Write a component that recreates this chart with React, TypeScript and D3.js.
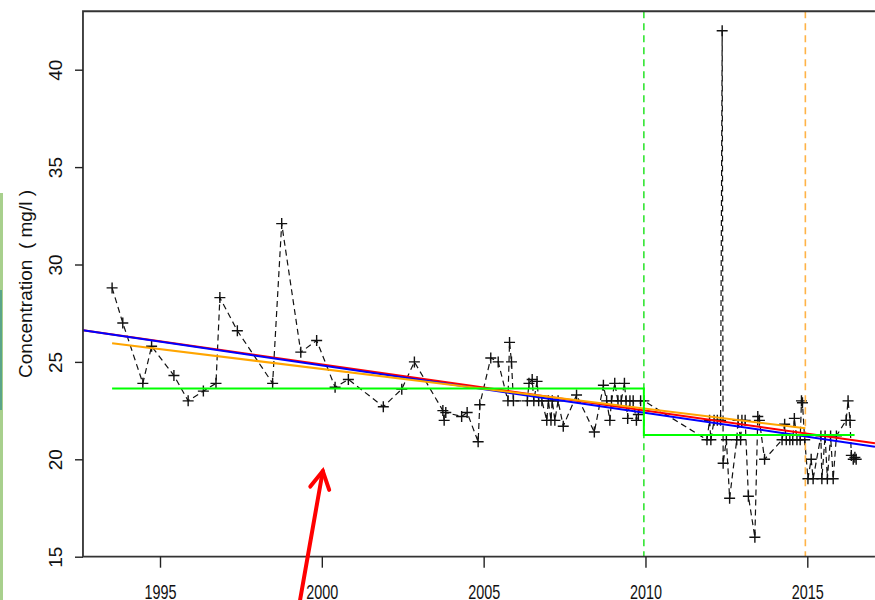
import React, { useEffect, useRef } from "react";
import * as d3 from "d3";

const width = 875;
const height = 600;

// sample dates (decimal years) and concentrations (mg/l)
const years = [
  1993.52, 1993.85, 1994.47, 1994.74, 1995.43, 1995.87, 1996.34, 1996.73, 1996.85, 1997.39,
  1998.48, 1998.76, 1999.35, 1999.84, 2000.41, 2000.82, 2001.9, 2002.47, 2002.86, 2003.74,
  2003.78, 2003.83, 2004.32, 2004.49, 2004.83, 2004.88, 2005.22, 2005.45, 2005.75, 2005.8,
  2005.86, 2005.92, 2006.35, 2006.4, 2006.5, 2006.55, 2006.65, 2006.7, 2006.8, 2006.95,
  2007.0, 2007.08, 2007.12, 2007.2, 2007.3, 2007.46, 2007.87, 2008.42, 2008.7, 2008.8,
  2008.9, 2008.95, 2009.05, 2009.15, 2009.25, 2009.35, 2009.4, 2009.45, 2009.52, 2009.62,
  2009.72, 2009.78, 2009.85, 2009.95, 2011.9, 2011.98, 2012.02, 2012.12, 2012.22, 2012.32,
  2012.37, 2012.4, 2012.5, 2012.6, 2012.82, 2012.86, 2012.94, 2012.98, 2013.08, 2013.18,
  2013.38, 2013.47, 2013.52, 2013.68, 2014.22, 2014.3, 2014.35, 2014.46, 2014.55, 2014.6,
  2014.68, 2014.78, 2014.82, 2014.85, 2014.92, 2015.02, 2015.12, 2015.18, 2015.42, 2015.45,
  2015.55, 2015.62, 2015.72, 2015.8, 2015.9, 2016.2, 2016.26, 2016.32, 2016.36, 2016.42,
  2016.47, 2016.51,
];
const conc = [
  28.8, 27.0, 23.9, 25.8, 24.3, 23.0, 23.5, 23.9, 28.3, 26.6,
  23.9, 32.1, 25.5, 26.1, 23.7, 24.1, 22.7, 23.6, 25.0, 22.5,
  22.0, 22.4, 22.2, 22.4, 20.9, 22.8, 25.2, 25.0, 23.0, 26.0,
  25.0, 23.0, 23.0, 23.9, 24.1, 23.0, 24.0, 23.0, 23.0, 22.0,
  23.0, 22.0, 23.0, 22.0, 23.0, 21.7, 23.3, 21.4, 23.8, 23.0,
  22.0, 23.0, 23.9, 23.0, 23.0, 23.9, 23.0, 22.1, 23.0, 23.0,
  22.0, 22.3, 23.0, 23.0, 21.0, 22.0, 21.0, 22.0, 22.0, 22.0,
  42.0, 19.8, 21.0, 18.0, 21.0, 22.0, 21.0, 22.0, 22.0, 18.1,
  16.0, 22.2, 22.0, 20.0, 21.0, 21.8, 21.0, 21.0, 21.0, 22.1,
  21.0, 21.0, 23.0, 22.9, 21.0, 19.0, 20.0, 19.0, 21.2, 19.0,
  21.2, 19.0, 21.2, 19.0, 21.2, 22.0, 23.0, 22.0, 20.2, 20.0,
  20.1, 20.0,
];

const xTicks = [1995, 2000, 2005, 2010, 2015];
const yTicks = [15, 20, 25, 30, 35, 40];

// fitted trends: [year0, value0, year1, value1]
const redTrend = [1992.62, 26.62, 2017.09, 20.82];
const blueTrend = [1992.62, 26.62, 2017.09, 20.65];
const orangeTrend = [1993.52, 25.96, 2014.94, 21.59];

// period means (step)
const stepYears = [1993.52, 2009.95, 2009.95, 2016.46];
const stepValues = [23.64, 23.64, 21.25, 21.25];

// break dates
const breakGreen = 2009.95;
const breakOrange = 2014.94;

// plotted region in data units
const xDomain = [1992.62, 2017.09];
const yTop = 43.0;

// annotation arrow (tail, tip) in data units
const arrowYears = [1999.33, 2000.03];
const arrowValues = [12.8, 19.4];

const font = "'Liberation Sans', Arial, Helvetica, sans-serif";

const App = () => {
  const xAxisRef = useRef<SVGGElement>(null);
  const yAxisRef = useRef<SVGGElement>(null);

  const x = d3.scaleLinear().domain([1995, 2015]).range([160, 807.3]);
  const y = d3.scaleLinear().domain([15, 40]).range([556.7, 69.7]);

  const left = x(xDomain[0]);
  const right = x(xDomain[1]);
  const top = y(yTop);
  const bottom = y(15);

  useEffect(() => {
    const yAxis = d3
      .axisLeft(y)
      .tickValues(yTicks)
      .tickSize(8)
      .tickFormat(d3.format("d"));
    const yg = d3.select(yAxisRef.current).call(yAxis);
    yg.select(".domain").remove();
    yg.selectAll("line").attr("stroke", "#222").attr("stroke-width", 1.4);
    yg.selectAll("text")
      .attr("x", null)
      .attr("dy", null)
      .attr("text-anchor", "middle")
      .attr("fill", "#111")
      .style("font-size", "19px")
      .style("font-family", font)
      .attr("transform", "translate(-21,0) rotate(-90)");

    const xAxis = d3
      .axisBottom(x)
      .tickValues(xTicks)
      .tickSize(11)
      .tickFormat(d3.format("d"));
    const xg = d3.select(xAxisRef.current).call(xAxis);
    xg.select(".domain").remove();
    xg.selectAll("line").attr("stroke", "#222").attr("stroke-width", 1.4);
    xg.selectAll("text")
      .attr("y", null)
      .attr("dy", null)
      .attr("fill", "#111")
      .style("font-size", "20px")
      .style("font-family", font)
      .attr("transform", "translate(0,42) scale(0.72,1)");
  }, []);

  const pts = years.map((yr, i) => [yr, conc[i]] as [number, number]);
  const dataLine = d3
    .line<[number, number]>()
    .x((d) => x(d[0]))
    .y((d) => y(d[1]));

  const seg = (t: number[]) =>
    dataLine([
      [t[0], t[1]],
      [t[2], t[3]],
    ]);

  const stepPts = stepYears.map((yr, i) => [yr, stepValues[i]] as [number, number]);

  const ax0 = x(arrowYears[0]);
  const ay0 = y(arrowValues[0]);
  const ax1 = x(arrowYears[1]);
  const ay1 = y(arrowValues[1]);
  const ang = Math.atan2(ay1 - ay0, ax1 - ax0);
  const headLen = 20;
  const wing = (a: number) => [ax1 - headLen * Math.cos(ang + a), ay1 - headLen * Math.sin(ang + a)];
  const w1 = wing(0.5);
  const w2 = wing(-0.5);

  return (
    <svg
      width={width}
      height={height}
      style={{ position: "absolute", left: 0, top: 0, background: "#fff" }}
    >
      <rect x={0} y={0} width={width} height={height} fill="#fff" />
      {/* cropped edge of the page behind */}
      <rect x={0} y={193} width={3} height={407} fill="#a8d08d" />
      <rect x={0} y={290} width={2} height={120} fill="#5aa58a" />

      {/* data series */}
      <path
        d={dataLine(pts) || ""}
        fill="none"
        stroke="#111"
        strokeWidth={1.2}
        strokeDasharray="6,4"
      />
      {pts.map((d, i) => (
        <path
          key={i}
          d="M-5.5,0H5.5M0,-5.5V5.5"
          transform={`translate(${x(d[0])},${y(d[1])})`}
          stroke="#111"
          strokeWidth={1.4}
          fill="none"
        />
      ))}

      {/* break lines */}
      <line
        x1={x(breakGreen)}
        x2={x(breakGreen)}
        y1={top}
        y2={bottom}
        stroke="#33e533"
        strokeWidth={1.6}
        strokeDasharray="7,5"
      />
      <line
        x1={x(breakOrange)}
        x2={x(breakOrange)}
        y1={top}
        y2={bottom}
        stroke="#ffb347"
        strokeWidth={1.6}
        strokeDasharray="7,5"
      />

      {/* trends */}
      <path d={seg(redTrend) || ""} stroke="#ff0000" strokeWidth={2} fill="none" />
      <path d={seg(blueTrend) || ""} stroke="#0000ff" strokeWidth={2} fill="none" />
      <path d={seg(orangeTrend) || ""} stroke="#ffa500" strokeWidth={2} fill="none" />
      <path d={dataLine(stepPts) || ""} stroke="#00ff00" strokeWidth={2} fill="none" />

      {/* frame */}
      <path
        d={`M${right},${top}H${left}V${bottom}H${right}`}
        fill="none"
        stroke="#333"
        strokeWidth={1.8}
      />
      <g ref={yAxisRef} transform={`translate(${left},0)`} />
      <g ref={xAxisRef} transform={`translate(0,${bottom})`} />

      <text
        transform={`translate(32,${(y(24.1) + y(33.9)) / 2}) rotate(-90)`}
        textAnchor="middle"
        fontSize={19}
        fontFamily={font}
        fill="#111"
        xmlSpace="preserve"
      >
        {"Concentration  ( mg/l )"}
      </text>

      {/* annotation arrow */}
      <g stroke="#ff0000" strokeWidth={4} fill="none" strokeLinecap="round">
        <line x1={ax0} y1={ay0} x2={ax1} y2={ay1} />
        <polyline points={`${w1[0]},${w1[1]} ${ax1},${ay1} ${w2[0]},${w2[1]}`} />
      </g>
    </svg>
  );
};

export default App;
